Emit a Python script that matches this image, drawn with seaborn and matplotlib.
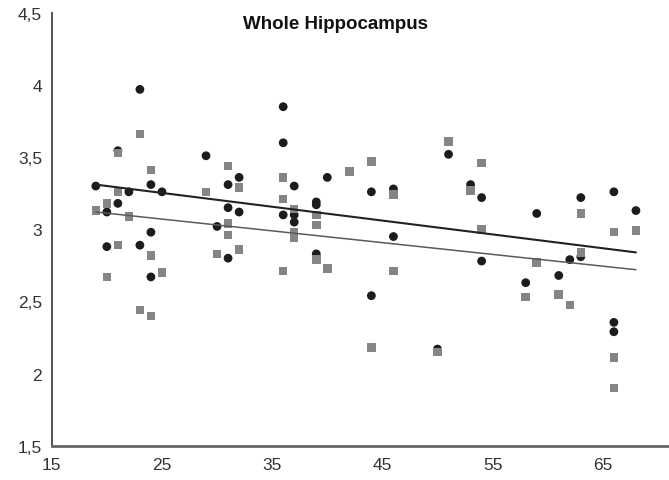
import matplotlib
matplotlib.use("Agg")
import matplotlib.pyplot as plt
import seaborn as sns
import pandas as pd
from matplotlib.ticker import FuncFormatter

# Series 1 (black circles)
age_black = [19, 20, 20, 21, 21, 22, 23, 23, 24, 24, 24, 25, 29, 30, 31, 31, 31,
             32, 32, 36, 36, 36, 37, 37, 37, 39, 39, 39, 40, 44, 44, 46, 46, 50,
             51, 53, 54, 54, 58, 59, 61, 62, 63, 63, 66, 66, 66, 68]
vol_black = [3.30, 3.12, 2.88, 3.545, 3.18, 3.26, 3.97, 2.89, 3.31, 2.98, 2.67, 3.26,
             3.51, 3.02, 3.31, 3.15, 2.80, 3.36, 3.12, 3.85, 3.60, 3.10, 3.30, 3.10,
             3.05, 3.19, 3.17, 2.83, 3.36, 3.26, 2.54, 3.28, 2.95, 2.17, 3.52, 3.31,
             3.22, 2.78, 2.63, 3.11, 2.68, 2.79, 3.22, 2.81, 3.26, 2.355, 2.29, 3.13]

# Series 2 (gray squares)
age_gray = [19, 20, 20, 21, 21, 21, 22, 23, 23, 24, 24, 24, 25, 29, 30, 31, 31, 31,
            32, 32, 36, 36, 36, 37, 37, 37, 39, 39, 39, 40, 42, 44, 44, 46, 46, 50,
            51, 53, 54, 54, 58, 59, 61, 62, 63, 63, 66, 66, 66, 68]
vol_gray = [3.13, 3.18, 2.67, 3.53, 3.26, 2.89, 3.09, 3.66, 2.44, 3.41, 2.82, 2.40,
            2.70, 3.26, 2.83, 3.44, 3.04, 2.96, 3.29, 2.86, 3.36, 3.21, 2.71, 3.14,
            2.98, 2.94, 3.10, 3.03, 2.79, 2.73, 3.40, 3.47, 2.18, 3.24, 2.71, 2.15,
            3.61, 3.27, 3.46, 3.00, 2.53, 2.77, 2.55, 2.475, 3.11, 2.84, 2.98, 2.11,
            1.90, 2.99]

# Trend lines (endpoints)
trend_x = [19, 68]
trend_black = [3.31, 2.84]
trend_gray = [3.12, 2.72]

x_ticks = [15, 25, 35, 45, 55, 65]
y_ticks = [1.5, 2.0, 2.5, 3.0, 3.5, 4.0, 4.5]
title = "Whole Hippocampus"

sns.set_style("white")
plt.rcParams['font.family'] = ['Liberation Sans', 'DejaVu Sans']

fig = plt.figure(figsize=(6.69, 4.81), dpi=100)
ax = fig.add_axes([0.0773, 0.0713, 0.9227, 0.8997])

df_b = pd.DataFrame({"age": age_black, "vol": vol_black})
df_g = pd.DataFrame({"age": age_gray, "vol": vol_gray})
df_tb = pd.DataFrame({"age": trend_x, "vol": trend_black})
df_tg = pd.DataFrame({"age": trend_x, "vol": trend_gray})

sns.scatterplot(data=df_b, x="age", y="vol", ax=ax, marker="o", s=40,
                color="#1c1c1c", edgecolor="none", zorder=3)
sns.scatterplot(data=df_g, x="age", y="vol", ax=ax, marker="s", s=38,
                color="#858585", edgecolor="none", zorder=4)
sns.lineplot(data=df_tb, x="age", y="vol", ax=ax, color="#222222", lw=1.5, zorder=5)
sns.lineplot(data=df_tg, x="age", y="vol", ax=ax, color="#5a5a5a", lw=1.1, zorder=5)

ax.set_xlim(15, 71)
ax.set_ylim(1.5, 4.5)
ax.set_xticks(x_ticks)
ax.set_yticks(y_ticks)

def fmt(v, pos):
    s = ("%g" % v).replace(".", ",")
    return s

ax.yaxis.set_major_formatter(FuncFormatter(fmt))
ax.xaxis.set_major_formatter(FuncFormatter(fmt))
ax.set_xlabel("")
ax.set_ylabel("")

for side in ["top", "right"]:
    ax.spines[side].set_visible(False)
ax.spines["left"].set_color("#444444")
ax.spines["left"].set_linewidth(1.3)
ax.spines["bottom"].set_color("#666666")
ax.spines["bottom"].set_linewidth(2.0)

ax.tick_params(axis="both", direction="out", length=3, width=1, colors="#444444",
               labelsize=12.5, labelcolor="#333333", pad=4)
ax.tick_params(axis="x", pad=5)

ax.text(0.46, 0.975, title, transform=ax.transAxes, ha="center", va="center",
        fontsize=13.5, fontweight="bold", color="#111111")

fig.savefig("out.png", dpi=100)
